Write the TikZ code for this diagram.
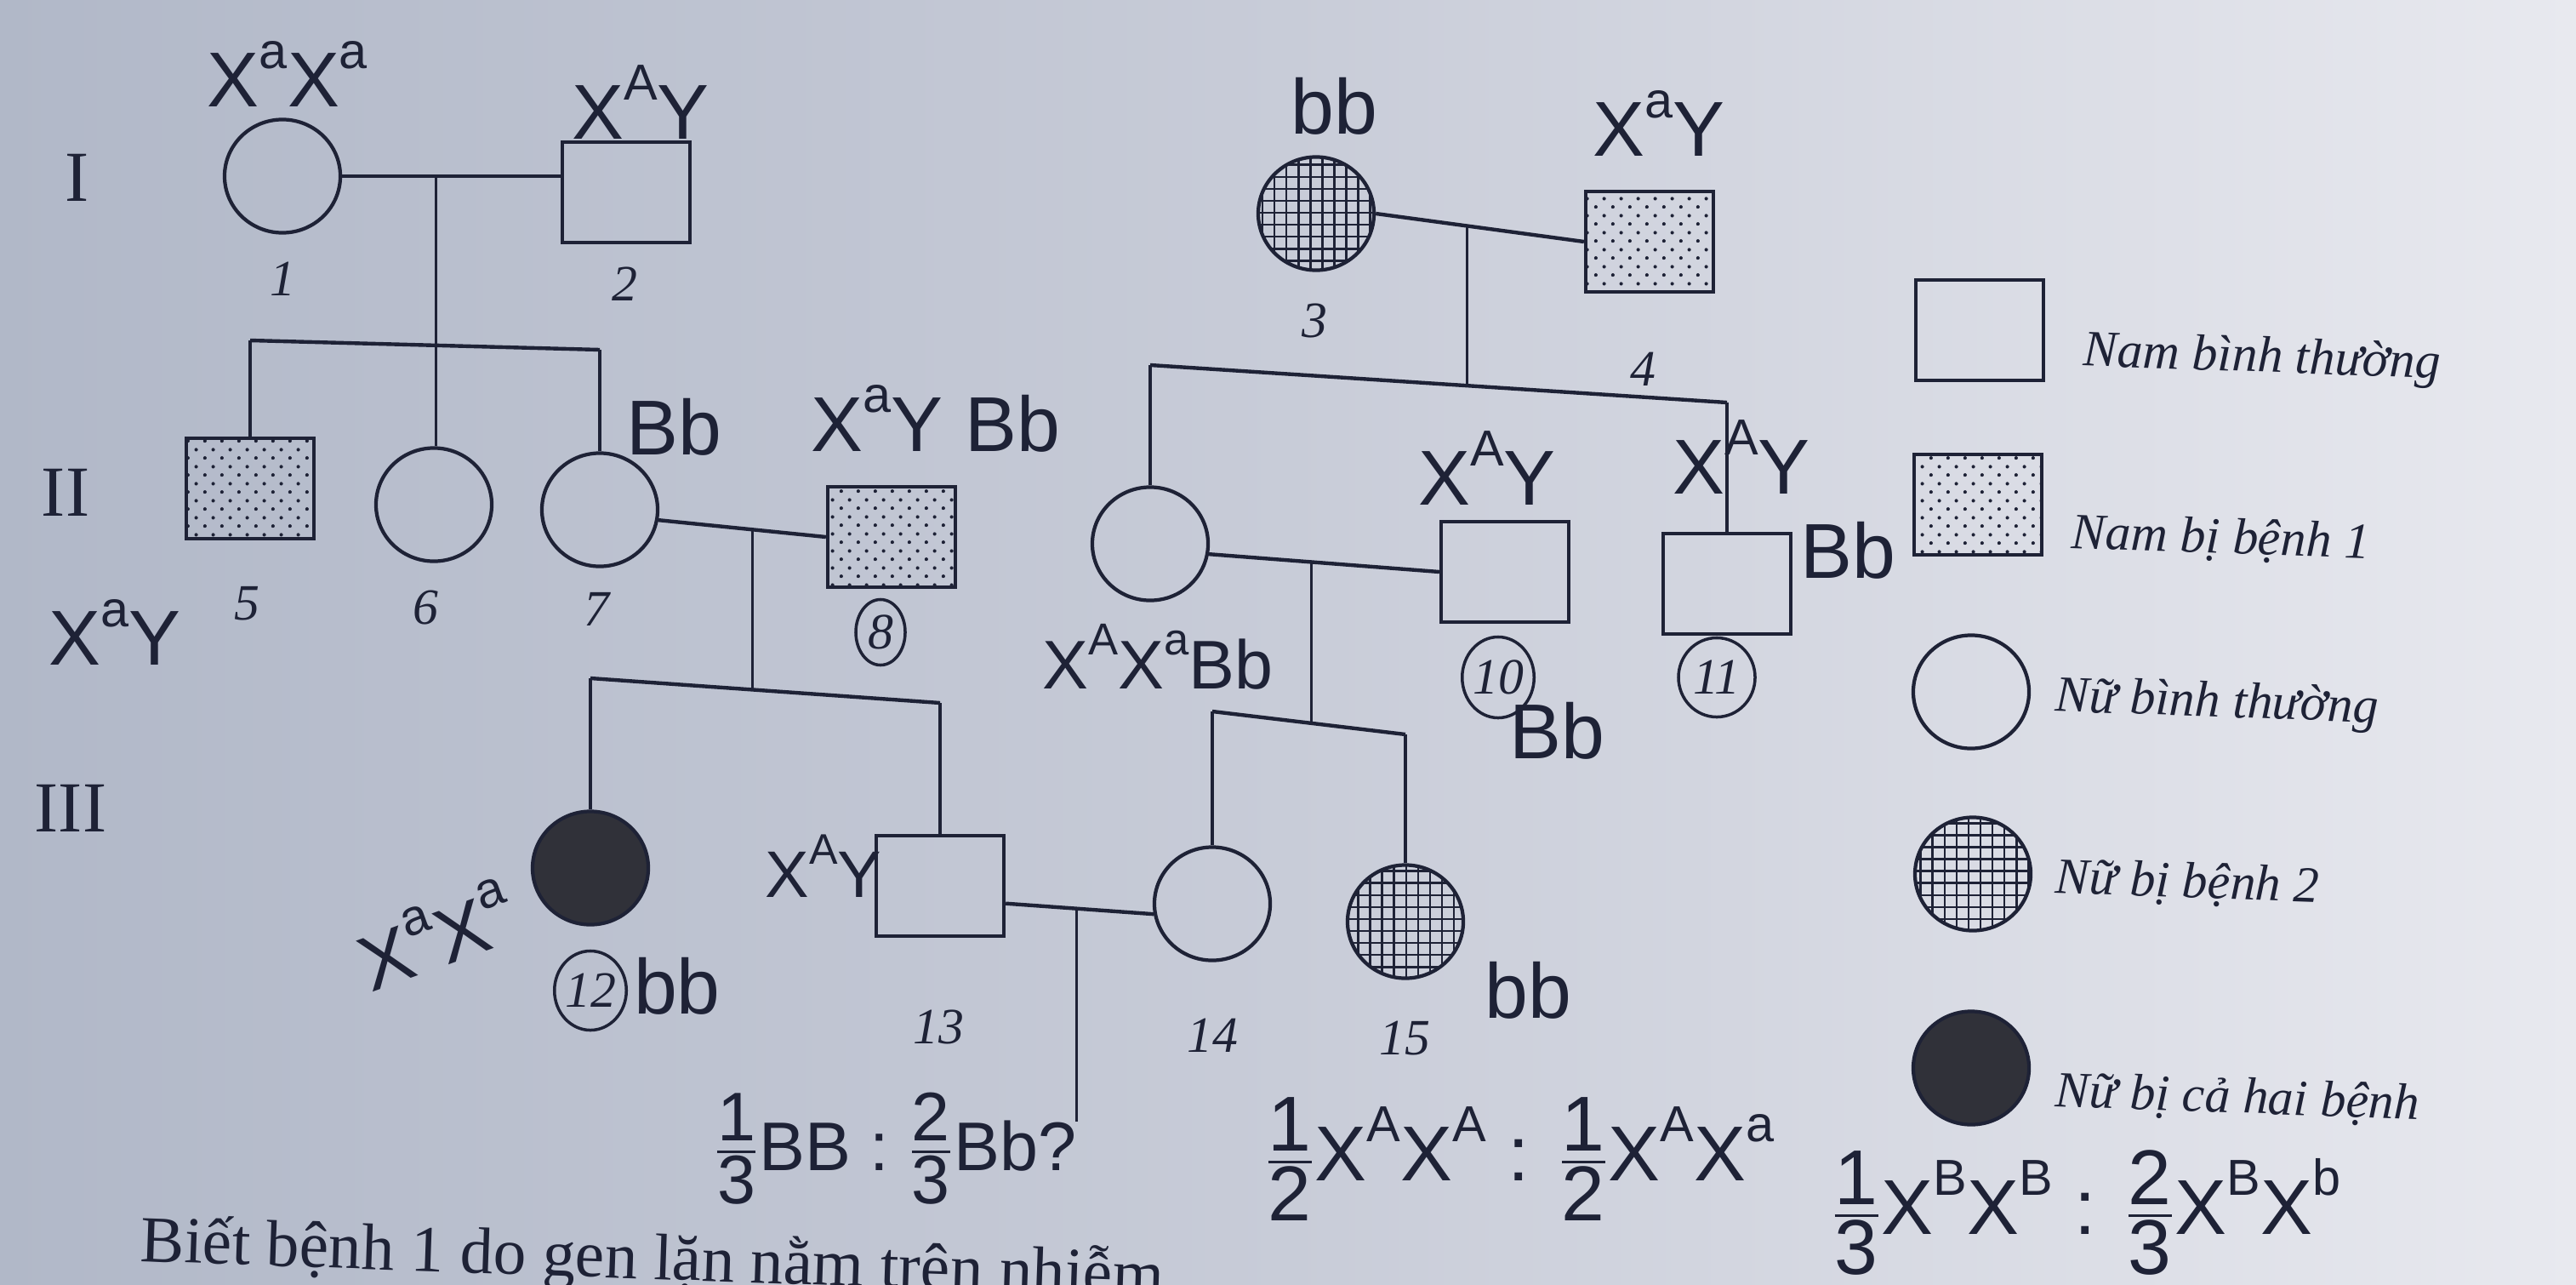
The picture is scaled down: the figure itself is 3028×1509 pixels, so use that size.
\documentclass[tikz,border=0pt]{standalone}
\usepackage{amsmath}
\usepackage{fontspec}
\setmainfont{Liberation Serif}
\newfontfamily\handfont{Liberation Sans}
\usetikzlibrary{patterns,shapes.geometric,calc}
\definecolor{ink}{HTML}{1E2236}
\definecolor{paperL}{HTML}{B1B8C8}
\definecolor{paperM}{HTML}{C8CCD8}
\definecolor{paperR}{HTML}{E8E9EF}
\definecolor{fillD}{HTML}{303139}
\pgfdeclarepatternformonly{pdots}{\pgfqpoint{0pt}{0pt}}{\pgfqpoint{5.6pt}{5.6pt}}{\pgfqpoint{5.6pt}{5.6pt}}{%
  \pgfpathcircle{\pgfqpoint{1.4pt}{1.4pt}}{0.6pt}%
  \pgfpathcircle{\pgfqpoint{4.2pt}{4.2pt}}{0.6pt}%
  \pgfusepath{fill}}
\pgfdeclarepatternformonly{pgrid}{\pgfqpoint{-0.5pt}{-0.5pt}}{\pgfqpoint{4.5pt}{4.5pt}}{\pgfqpoint{4pt}{4pt}}{%
  \pgfsetlinewidth{0.75pt}%
  \pgfpathmoveto{\pgfqpoint{-0.5pt}{2pt}}\pgfpathlineto{\pgfqpoint{4.5pt}{2pt}}%
  \pgfpathmoveto{\pgfqpoint{2pt}{-0.5pt}}\pgfpathlineto{\pgfqpoint{2pt}{4.5pt}}%
  \pgfusepath{stroke}}
\newcommand\hs[1]{\raisebox{0.5em}{\scalebox{0.65}{#1}}}
\newcommand\hfr[2]{$\genfrac{}{}{0.9pt}{}{\mbox{#1}}{\mbox{#2}}$}
\tikzset{
  ped/.style={draw=ink, line width=1.2pt, inner sep=0pt},
  male/.style={ped, rectangle, minimum width=1.5cm, minimum height=1.18cm},
  female/.style={ped, ellipse, minimum width=1.36cm, minimum height=1.33cm},
  dis1/.style={pattern=pdots, pattern color=ink},
  dis2/.style={pattern=pgrid, pattern color=ink},
  both/.style={fill=fillD},
  conn/.style={draw=ink, line width=1.25pt},
  drop/.style={draw=ink, line width=0.9pt},
  num/.style={text=ink, font=\fontsize{17}{17}\selectfont\itshape},
  gen/.style={text=ink, font=\fontsize{24}{24}\selectfont},
  hand/.style={text=ink, font=\handfont\fontsize{26}{28}\selectfont, inner sep=0pt},
  legtxt/.style={text=ink, font=\fontsize{17}{20}\selectfont\itshape, anchor=west, rotate=-2},
  ring/.style={draw=ink, line width=1pt, ellipse, inner sep=0pt, text=ink, font=\fontsize{17}{17}\selectfont\itshape},
}
\begin{document}
\begin{tikzpicture}[x=0.01cm,y=-0.01cm]
\useasboundingbox (0,0) rectangle (3028,1509);
\clip (0,0) rectangle (3028,1509);
\shade[left color=paperL, right color=paperR, middle color=paperM] (0,0) rectangle (3028,1509);

% generation labels
\node[gen] (gI) at (91,209) {I};
\node[gen] (gII) at (77,579) {II};
\node[gen] (gIII) at (83,950) {III};

% individuals
\node[female] (p1) at (332,207) {};
\node[male] (p2) at (736,226) {};
\node[female, dis2] (p3) at (1547,251) {};
\node[male, dis1] (p4) at (1939,284) {};
\node[male, dis1] (p5) at (294,574) {};
\node[female] (p6) at (510,593) {};
\node[female] (p7) at (705,599) {};
\node[male, dis1] (p8) at (1048,631) {};
\node[female] (p9) at (1352,639) {};
\node[male] (p10) at (1769,672) {};
\node[male] (p11) at (2030,686) {};
\node[female, both] (p12) at (694,1020) {};
\node[male] (p13) at (1105,1041) {};
\node[female] (p14) at (1425,1062) {};
\node[female, dis2] (p15) at (1652,1083) {};

% family 1-2
\draw[conn] (p1.east) -- (p1.east -| p2.west);
\coordinate (m12) at ($(p1.east)!0.43!(p1.east -| p2.west)$);
\coordinate (sA) at (294,400);
\coordinate (sB) at (705,411);
\draw[conn] (sA) -- (sB);
\draw[drop] (sA) -- (p5.north);
\draw[drop] (sB) -- (p7.north);
\draw[drop] (m12) -- (m12 |- p6.north);

% family 3-4
\draw[conn] (p3.east) -- (p4.west);
\coordinate (m34) at ($(p3.east)!0.44!(p4.west)$);
\coordinate (sC) at (1352,429);
\coordinate (sD) at (2030,473);
\draw[conn] (sC) -- (sD);
\coordinate (dC) at ($(sC)!0.549!(sD)$);
\draw[drop] (m34) -- (m34 |- dC);
\draw[drop] (sC) -- (p9.north);
\draw[drop] (sD) -- (p11.north);

% family 7-8
\draw[conn] (p7.-10) -- (p8.west);
\coordinate (m78) at ($(p7.-10)!0.56!(p8.west)$);
\coordinate (sE) at (694,797);
\coordinate (sF) at (1105,826);
\draw[conn] (sE) -- (sF);
\coordinate (dE) at ($(sE)!0.462!(sF)$);
\draw[drop] (m78) -- (m78 |- dE);
\draw[drop] (sE) -- (p12.north);
\draw[drop] (sF) -- (p13.north);

% family 9-10
\draw[conn] (p9.-10) -- (p10.west);
\coordinate (m910) at ($(p9.-10)!0.444!(p10.west)$);
\coordinate (sG) at (1425,836);
\coordinate (sH) at (1652,863);
\draw[conn] (sG) -- (sH);
\coordinate (dG) at ($(sG)!0.511!(sH)$);
\draw[drop] (m910) -- (m910 |- dG);
\draw[drop] (sG) -- (p14.north);
\draw[drop] (sH) -- (p15.north);

% family 13-14
\draw[conn] (p13.-15) -- (p14.190);
\coordinate (m1314) at ($(p13.-15)!0.478!(p14.190)$);
\coordinate (kid) at ($(m1314)+(0,250)$);
\draw[drop] (m1314) -- (kid);

% printed numbers
\node[num] (n1) at (332,328) {1};
\node[num] (n2) at (734,334) {2};
\node[num] (n3) at (1545,377) {3};
\node[num] (n4) at (1931,434) {4};
\node[num] (n5) at (290,709) {5};
\node[num] (n6) at (500,714) {6};
\node[num] (n7) at (701,716) {7};
\node[num] (n13) at (1103,1207) {13};
\node[num] (n14) at (1425,1217) {14};
\node[num] (n15) at (1651,1220) {15};
\node[ring, minimum width=0.58cm, minimum height=0.77cm] (n8) at (1035,743) {8};
\node[ring, minimum width=0.72cm, minimum height=0.95cm] (n10) at (1761,796) {10};
\node[ring, minimum width=0.9cm, minimum height=0.93cm] (n11) at (2018,796) {11};
\node[ring, minimum width=0.82cm, minimum height=0.93cm] (n12) at (694,1164) {12};

% legend
\node[male] (L1) at (2327,388) {};
\node[male, dis1] (L2) at (2325,593) {};
\node[female] (L3) at (2317,813) {};
\node[female, dis2] (L4) at (2319,1027) {};
\node[female, both] (L5) at (2317,1255) {};
\node[legtxt] (t1) at (2437,415) {Nam bình thường};
\node[legtxt] (t2) at (2423,628) {Nam bị bệnh 1};
\node[legtxt] (t3) at (2404,821) {Nữ bình thường};
\node[legtxt] (t4) at (2404,1033) {Nữ bị bệnh 2};
\node[legtxt] (t5) at (2404,1284) {Nữ bị cả hai bệnh};

% handwritten annotations
\node[hand] (h1) at (338,87) {X\hs{a}X\hs{a}};
\node[hand] (h2) at (753,120) {X\hs{A}Y};
\node[hand] (h3) at (1568,125) {bb};
\node[hand] (h4) at (1950,145) {X\hs{a}Y};
\node[hand] (h5) at (792,502) {Bb};
\node[hand] (h6) at (1100,492) {X\hs{a}Y Bb};
\node[hand] (h7) at (135,743) {X\hs{a}Y};
\node[hand, font=\handfont\fontsize{23}{25}\selectfont] (h8) at (1361,772) {X\hs{A}X\hs{a}Bb};
\node[hand] (h9) at (1748,550) {X\hs{A}Y};
\node[hand] (h10) at (2047,537) {X\hs{A}Y};
\node[hand] (h11) at (2172,647) {Bb};
\node[hand] (h12) at (1830,859) {Bb};
\node[hand, rotate=20] (h13) at (512,1098) {X\hs{a}X\hs{a}};
\node[hand] (h14) at (796,1159) {bb};
\node[hand, font=\handfont\fontsize{22}{24}\selectfont] (h15) at (968,1018) {X\hs{A}Y};
\node[hand] (h16) at (1796,1164) {bb};
\node[hand, font=\handfont\fontsize{23}{25}\selectfont] (h17) at (1052,1350) {\hfr{1}{3}BB : \hfr{2}{3}Bb?};
\node[hand] (h18) at (1786,1362) {\hfr{1}{2}X\hs{A}X\hs{A} : \hfr{1}{2}X\hs{A}X\hs{a}};
\node[hand] (h19) at (2452,1425) {\hfr{1}{3}X\hs{B}X\hs{B} : \hfr{2}{3}X\hs{B}X\hs{b}};

% printed sentence (cut by the page edge)
\node[anchor=base west, text=ink, font=\fontsize{22}{22}\selectfont, rotate=-2, inner sep=0pt] (q) at (164,1482) {Biết bệnh 1 do gen lặn nằm trên nhiễm};
\end{tikzpicture}
\end{document}
